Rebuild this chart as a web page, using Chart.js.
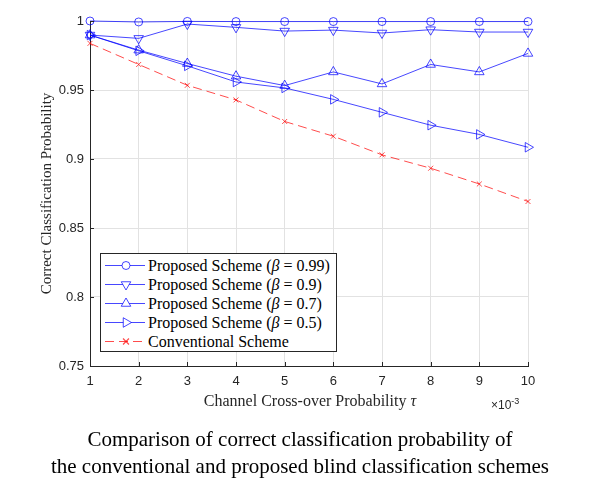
<!DOCTYPE html>
<html>
<head>
<meta charset="utf-8">
<script src="https://cdn.jsdelivr.net/npm/chart.js@4.4.1/dist/chart.umd.min.js"></script>
<style>
  html, body { margin: 0; padding: 0; background: #fff; }
  #wrap { position: relative; width: 600px; height: 492px; background: #fff; overflow: hidden; }
  #c { position: absolute; left: 0; top: 0; }
  #legend { position: absolute; left: 100px; top: 253px; width: 237px; height: 99px;
            border: 1px solid #262626; background: #fff; box-sizing: border-box; }
  .row { position: absolute; left: 0; height: 19px; width: 100%; }
  .row svg { position: absolute; left: 3px; top: 0; }
  .row span { position: absolute; left: 47px; top: 0; line-height: 19px; white-space: nowrap;
              font-family: "Liberation Serif", "Times New Roman", serif; font-size: 16px; color: #000; }
  #xtitle { position: absolute; left: 0; width: 620px; top: 392px; text-align: center;
            font-family: "Liberation Serif", serif; font-size: 16px; color: #262626; }
  #exp { position: absolute; left: 491px; top: 396px; font-family: "Liberation Sans", Arial, sans-serif;
         font-size: 12px; color: #262626; }
  #exp sup { font-size: 9px; vertical-align: 5px; }
  #caption { position: absolute; left: 0; width: 600px; top: 426px; text-align: center;
             font-family: "Liberation Serif", "Times New Roman", serif; font-size: 21px; line-height: 27px; color: #000; }
</style>
</head>
<body>
<div id="wrap">
  <canvas id="c" width="600" height="420"></canvas>
  <div id="legend"></div>
  <div id="xtitle">Channel Cross-over Probability <i>τ</i></div>
  <div id="exp">×10<sup>-3</sup></div>
  <div id="caption">Comparison of correct classification probability of<br>the conventional and proposed blind classification schemes</div>
</div>
<script>
// ---- data ----
const tau = [1, 2, 3, 4, 5, 6, 7, 8, 9, 10];
const xTickLabels = ['1', '2', '3', '4', '5', '6', '7', '8', '9', '10'];
const yTickLabels = ['0.75', '0.8', '0.85', '0.9', '0.95', '1'];
const seriesNames = [
  'Proposed Scheme (β = 0.99)',
  'Proposed Scheme (β = 0.9)',
  'Proposed Scheme (β = 0.7)',
  'Proposed Scheme (β = 0.5)',
  'Conventional Scheme'
];
const beta099 = [1.0000, 0.9993, 0.9997, 0.9996, 0.9996, 0.9996, 0.9996, 0.9996, 0.9996, 0.9996];
const beta09  = [0.9898, 0.9874, 0.9978, 0.9954, 0.9927, 0.9934, 0.9913, 0.9937, 0.9920, 0.9920];
const beta07  = [0.9898, 0.9789, 0.9692, 0.9600, 0.9532, 0.9631, 0.9544, 0.9685, 0.9631, 0.9765];
const beta05  = [0.9898, 0.9784, 0.9675, 0.9558, 0.9515, 0.9432, 0.9338, 0.9245, 0.9178, 0.9085];
const conventional = [0.9838, 0.9685, 0.9534, 0.9428, 0.9272, 0.9165, 0.9030, 0.8933, 0.8819, 0.8692];

// ---- styles ----
const BLUE = 'rgba(0,0,255,0.72)';
const RED = 'rgba(255,0,0,0.7)';
const styles = [
  { color: BLUE, point: 'circle', rot: 0, r: 4, dash: [] },
  { color: BLUE, point: 'triangle', rot: 180, r: 5.5, dash: [] },
  { color: BLUE, point: 'triangle', rot: 0, r: 5.5, dash: [] },
  { color: BLUE, point: 'triangle', rot: 90, r: 5.5, dash: [] },
  { color: RED, point: 'crossRot', rot: 0, r: 3.5, dash: [9, 5] }
];
const values = [beta099, beta09, beta07, beta05, conventional];

const datasets = values.map((v, i) => ({
  label: seriesNames[i],
  data: tau.map((t, k) => ({ x: t, y: v[k] })),
  borderColor: styles[i].color,
  borderWidth: 1,
  borderDash: styles[i].dash,
  backgroundColor: 'rgba(0,0,0,0)',
  pointStyle: styles[i].point,
  pointRotation: styles[i].rot,
  pointRadius: styles[i].r,
  pointBorderColor: styles[i].color,
  pointBackgroundColor: 'rgba(0,0,0,0)',
  pointBorderWidth: 1,
  tension: 0,
  fill: false,
  clip: false
}));

const AXIS = '#262626';
const innerTicks = {
  id: 'innerTicks',
  afterDatasetsDraw(chart) {
    const { ctx, chartArea: a, scales: { x, y } } = chart;
    ctx.save();
    ctx.strokeStyle = AXIS;
    ctx.lineWidth = 1;
    ctx.beginPath();
    x.ticks.forEach(t => { const px = Math.round(x.getPixelForValue(t.value)) + 0.5; ctx.moveTo(px, a.bottom); ctx.lineTo(px, a.bottom - 4); });
    y.ticks.forEach(t => { const py = Math.round(y.getPixelForValue(t.value)) + 0.5; ctx.moveTo(a.left, py); ctx.lineTo(a.left + 4, py); });
    ctx.stroke();
    ctx.restore();
  }
};

new Chart(document.getElementById('c'), {
  type: 'line',
  data: { datasets },
  plugins: [innerTicks],
  options: {
    responsive: false,
    animation: false,
    events: [],
    layout: { padding: { top: 21, right: 72, left: 0, bottom: 0 } },
    plugins: { legend: { display: false }, tooltip: { enabled: false } },
    scales: {
      x: {
        type: 'linear', min: 1, max: 10,
        afterFit(s) { s.height = 54; },
        ticks: { stepSize: 1, padding: 8, color: AXIS,
                 font: { family: 'Liberation Sans, Arial, sans-serif', size: 13 },
                 callback: (v, i) => xTickLabels[i] },
        grid: { color: '#e2e2e2', drawTicks: false },
        border: { color: AXIS, width: 1 }
      },
      y: {
        type: 'linear', min: 0.75, max: 1,
        afterFit(s) { s.width = 90; },
        ticks: { stepSize: 0.05, padding: 6, color: AXIS,
                 font: { family: 'Liberation Sans, Arial, sans-serif', size: 13 },
                 callback: (v, i) => yTickLabels[i] },
        grid: { color: '#e2e2e2', drawTicks: false },
        border: { color: AXIS, width: 1 },
        title: { display: true, text: 'Correct Classification Probability', color: AXIS,
                 font: { family: 'Liberation Serif, serif', size: 15 }, padding: { top: 38, bottom: 0 } }
      }
    }
  }
});

// ---- HTML legend built from the same names/styles ----
const legend = document.getElementById('legend');
const svgNS = 'http://www.w3.org/2000/svg';
function markerSVG(st) {
  const cx = 22, cy = 9.5;
  let m = '';
  const c = st.color;
  if (st.point === 'circle') {
    m = `<circle cx="${cx}" cy="${cy}" r="${st.r}" fill="#fff" stroke="${c}" stroke-width="1"/>`;
  } else if (st.point === 'triangle') {
    const pts = [0, 120, 240].map(a => {
      const rad = (a + st.rot) * Math.PI / 180;
      return (cx + Math.sin(rad) * st.r).toFixed(2) + ',' + (cy - Math.cos(rad) * st.r).toFixed(2);
    }).join(' ');
    m = `<polygon points="${pts}" fill="#fff" stroke="${c}" stroke-width="1"/>`;
  } else {
    const d = st.r * 0.85;
    m = `<path d="M${cx - d},${cy - d}L${cx + d},${cy + d}M${cx - d},${cy + d}L${cx + d},${cy - d}" stroke="${c}" stroke-width="1.2"/>`;
  }
  const dash = st.dash.length ? `stroke-dasharray="${st.dash.join(',')}"` : '';
  return `<svg width="42" height="19" xmlns="${svgNS}"><line x1="1" y1="${cy}" x2="41" y2="${cy}" stroke="${c}" stroke-width="1" ${dash}/>${m}</svg>`;
}
seriesNames.forEach((name, i) => {
  const row = document.createElement('div');
  row.className = 'row';
  row.style.top = (2 + i * 19) + 'px';
  const label = name.replace('β', '<i>β</i>');
  row.innerHTML = markerSVG(styles[i]) + '<span>' + label + '</span>';
  legend.appendChild(row);
});
</script>
</body>
</html>
